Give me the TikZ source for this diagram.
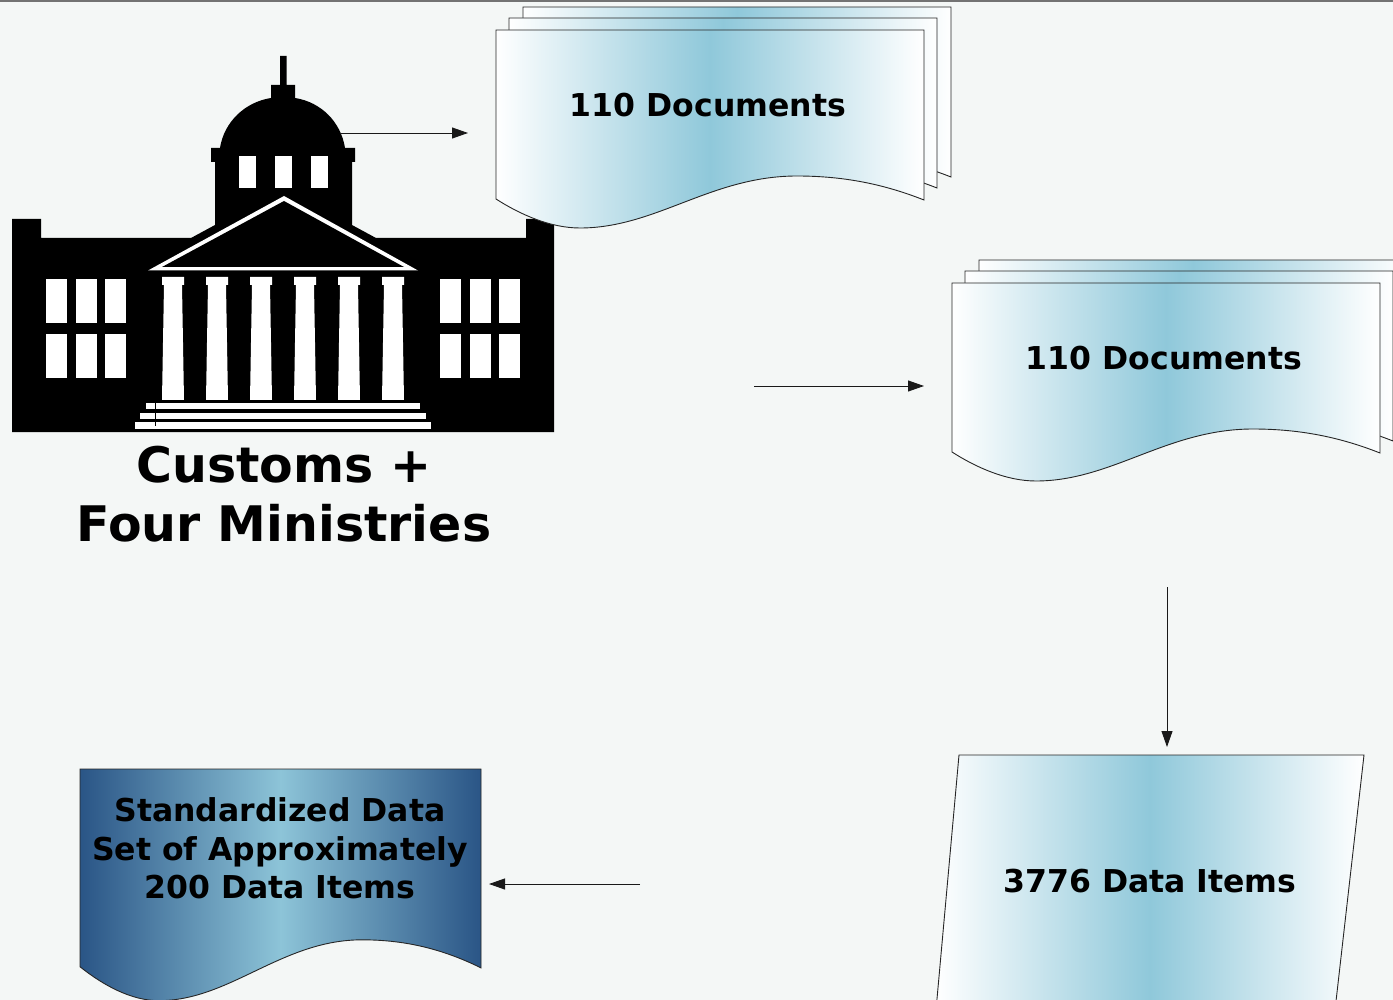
\documentclass[tikz,border=0pt]{standalone}
\usepackage{fontspec}
\setmainfont{DejaVu Sans}
\usetikzlibrary{arrows.meta}
\definecolor{pagebg}{HTML}{F4F7F6}
\definecolor{paleblue}{HTML}{8FC8DA}
\definecolor{deepblue}{HTML}{2A5586}
\definecolor{midblue}{HTML}{8DC4D8}
\tikzset{
	flow/.style={draw=black!90, line width=0.9pt, -{Stealth[length=16pt,width=11pt,inset=0pt]}},
	paledoc/.style={draw=black!85, line width=0.9pt, left color=white, right color=white, middle color=paleblue},
	deepdoc/.style={draw=black!85, line width=0.9pt, left color=deepblue, right color=deepblue, middle color=midblue},
	doclabel/.style={font=\fontsize{31.5}{38.5}\selectfont\bfseries, align=center, text=black},
	hole/.style={fill=white, draw=none}
}
\newcommand{\docsheet}[5]{
	\begin{scope}[shift={(#1,#2)}, xscale=#3, yscale=#4]
		\path[#5] (0,0) -- (428,0) -- (428,170) .. controls (390,155) and (350,146) .. (301,146) .. controls (215,146) and (160,198) .. (84,198) .. controls (55,198) and (25,185) .. (0,169) -- cycle;
	\end{scope}
}
\begin{document}
\begin{tikzpicture}[x=1pt, y=-1pt]
	\clip (0,0) rectangle (1393,1000);
	\fill[pagebg] (0,0) rectangle (1393,1000);
	\fill[black!55] (0,0) rectangle (1393,2.5);

	% building
	\fill[black] (12,432) -- (12,219) -- (41,219) -- (41,238) -- (191,238) -- (215,225) -- (215,162) -- (211,162) -- (211,148) -- (220,148)
		.. controls (224,122) and (245,102) .. (271,98) -- (271,85) -- (280,85) -- (280,56) -- (286.5,56) -- (286.5,85) -- (295,85) -- (295,98)
		.. controls (321,102) and (341,122) .. (345,148) -- (355,148) -- (355,162) -- (352,162) -- (352,225) -- (376,238) -- (526,238) -- (526,219) -- (554,219) -- (554,432) -- cycle;
	\fill[white] (284,196) -- (418,270.5) -- (148,270.5) -- cycle;
	\fill[black] (284,201) -- (404,267) -- (162,267) -- cycle;
	\foreach \wx in {239,275,311}
		\fill[hole] (\wx,156) rectangle ++(17,32);
	\foreach \wx in {46,76,105,440,470,499}
		\foreach \wy in {279,334}
			\fill[hole] (\wx,\wy) rectangle ++(21,44);
	\foreach \cx in {173,217,261,305,349,393}
		\fill[hole] (\cx-11,277) -- (\cx+11,277) -- (\cx+11,285) -- (\cx+9,285) -- (\cx+11,400) -- (\cx-11,400) -- (\cx-9,285) -- (\cx-11,285) -- cycle;
	\fill[hole] (146,403) rectangle (420,409);
	\fill[hole] (140,413) rectangle (426,419);
	\fill[hole] (135,422) rectangle (431,429);
	\draw[black, line width=0.7pt] (155,402) -- (155,426);
	\node[font=\fontsize{49}{59}\selectfont\bfseries, align=center, text=black] (Gov) at (284,494) {Customs +\\Four Ministries};

	% first stack
	\docsheet{523}{7}{1}{1}{paledoc}
	\docsheet{509}{18}{1}{1}{paledoc}
	\docsheet{496}{30}{1}{1}{paledoc}
	\node[doclabel] (DocsA) at (708,105) {110 Documents};

	% second stack
	\docsheet{979}{260}{1}{1}{paledoc}
	\docsheet{965}{271}{1}{1}{paledoc}
	\docsheet{952}{283}{1}{1}{paledoc}
	\node[doclabel] (DocsB) at (1164,358) {110 Documents};

	% data items sheet
	\path[paledoc] (959,755) -- (1364,755) -- (1335,1010) -- (936,1010) -- cycle;
	\node[doclabel] (Items) at (1150,881) {3776 Data Items};

	% standard set
	\docsheet{80}{769}{0.937}{1.17}{deepdoc}
	\node[doclabel] (Std) at (280,848.5) {Standardized Data\\Set of Approximately\\200 Data Items};

	\coordinate (A1) at (340,133);
	\coordinate (A2) at (468,133);
	\coordinate (B1) at (754,386);
	\coordinate (B2) at (924,386);
	\coordinate (C1) at (1167,587);
	\coordinate (C2) at (1167,747);
	\coordinate (D1) at (640,884);
	\coordinate (D2) at (489,884);
	\draw[flow] (A1) -- (A2);
	\draw[flow] (B1) -- (B2);
	\draw[flow] (C1) -- (C2);
	\draw[flow] (D1) -- (D2);
\end{tikzpicture}
\end{document}
